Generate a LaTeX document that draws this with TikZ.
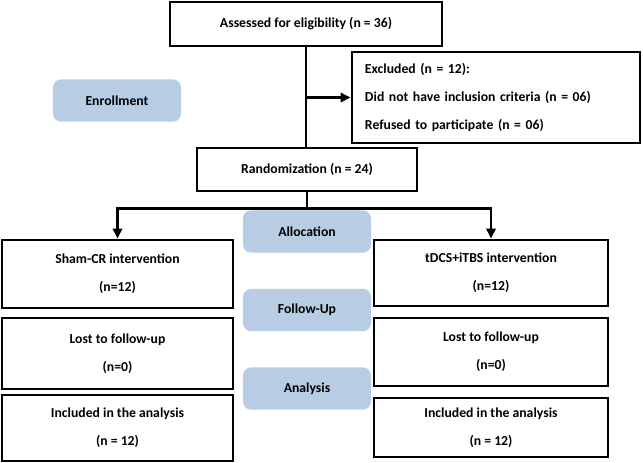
\documentclass[tikz,border=0pt]{standalone}
\usepackage{fontspec}
\setmainfont{Carlito}
\usetikzlibrary{arrows.meta,positioning,calc}
\definecolor{stageblue}{HTML}{B8CCE4}
\tikzset{
  box/.style   = {draw, line width=2.5pt, rectangle, align=center, inner sep=0pt,
                  font=\bfseries\fontsize{11.7}{24}\selectfont},
  stage/.style = {fill=stageblue, rounded corners=7pt, minimum width=3.84cm,
                  minimum height=1.27cm, font=\bfseries\fontsize{11.7}{14}\selectfont},
  sig/.style   = {-{Triangle[length=3mm,width=2.8mm]}, line width=2pt},
  link/.style  = {line width=2pt},
}
\begin{document}
\begin{tikzpicture}[x=0.03cm,y=-0.03cm]
\useasboundingbox (0,0) rectangle (643,462);
\node[box, minimum width=8.16cm, minimum height=1.32cm] (assess) at (306,24) {Assessed for eligibility (n = 36)};
\node[box, align=left, text width=7.86cm, inner xsep=0.39cm, minimum height=2.73cm] (excl) at (496,97.5)
  {Excluded (n = 12):\\Did not have inclusion criteria (n = 06)\\Refused to participate (n = 06)};
\node[stage] (enroll) at (117,100.5) {Enrollment};
\node[box, minimum width=6.6cm, minimum height=1.29cm] (rand) at (307,169.5) {Randomization (n = 24)};
\node[stage] (alloc) at (307,231.5) {Allocation};
\node[stage] (follow) at (307,310) {Follow-Up};
\node[stage] (analysis) at (307,388.5) {Analysis};

\node[box, minimum width=6.93cm, minimum height=2.04cm] (sham) at (117.5,274) {Sham-CR intervention\\(n=12)};
\node[box, minimum width=7.02cm, minimum height=1.98cm] (tdcs) at (491,273) {tDCS+iTBS intervention\\(n=12)};
\node[box, minimum width=6.93cm, minimum height=2.13cm] (lostL) at (117.5,353.5) {Lost to follow-up\\(n=0)};
\node[box, minimum width=7.02cm, minimum height=2.04cm] (lostR) at (491,352) {Lost to follow-up\\(n=0)};
\node[box, minimum width=6.93cm, minimum height=1.98cm] (inclL) at (117.5,428) {Included in the analysis\\(n = 12)};
\node[box, minimum width=7.02cm, minimum height=1.77cm] (inclR) at (491,427.5) {Included in the analysis\\(n = 12)};

\draw[link] (assess.south) -- (assess.south |- rand.north);
\draw[sig] (assess.south |- excl.west) -- (excl.west);
\coordinate (split) at ($(rand.south)+(0,16)$);
\draw[link] (rand.south) -- (split);
\draw[sig] (split) -| (sham.north);
\draw[sig] (split) -| (tdcs.north);
\end{tikzpicture}
\end{document}
